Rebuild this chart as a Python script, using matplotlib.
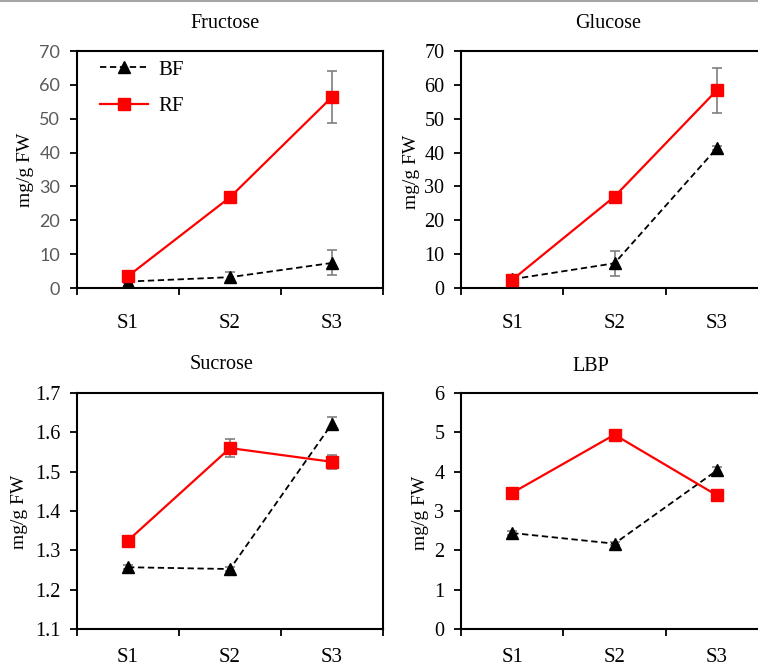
import matplotlib
matplotlib.use("Agg")
import matplotlib.pyplot as plt
from matplotlib.lines import Line2D

plt.rcParams['font.family'] = ['Liberation Serif', 'DejaVu Serif']

stages = ["S1", "S2", "S3"]
series = ["BF", "RF"]

fructose_bf = [1.9, 3.2, 7.4]
fructose_bf_err = [0.3, 1.5, 3.7]
fructose_rf = [3.5, 26.8, 56.4]
fructose_rf_err = [0.3, 0.5, 7.6]

glucose_bf = [2.6, 7.3, 41.3]
glucose_bf_err = [0.2, 3.7, 0.5]
glucose_rf = [2.4, 27.0, 58.4]
glucose_rf_err = [0.2, 0.5, 6.6]

sucrose_bf = [1.257, 1.2525, 1.622]
sucrose_bf_err = [0.005, 0.005, 0.016]
sucrose_rf = [1.325, 1.560, 1.525]
sucrose_rf_err = [0.004, 0.022, 0.018]

lbp_bf = [2.44, 2.17, 4.03]
lbp_bf_err = [0.04, 0.04, 0.08]
lbp_rf = [3.46, 4.94, 3.40]
lbp_rf_err = [0.04, 0.04, 0.04]

titles = ["Fructose", "Glucose", "Sucrose", "LBP"]
ylabel = "mg/g FW"

W, H = 758, 668
fig = plt.figure(figsize=(W / 100, H / 100), dpi=100)

def px_axes(x0, y0, x1, y1):
    return fig.add_axes([x0 / W, 1 - y1 / H, (x1 - x0) / W, (y1 - y0) / H])

panels = [
    dict(box=(77, 51, 383, 288), bf=fructose_bf, bfe=fructose_bf_err, rf=fructose_rf, rfe=fructose_rf_err,
         ylim=(0, 70), yticks=[0, 10, 20, 30, 40, 50, 60, 70], fmt="{:d}", title_xy=(225, 24), ylab_xy=(25, 170),
         sans=True, xpad=19),
    dict(box=(461, 51, 768, 288), bf=glucose_bf, bfe=glucose_bf_err, rf=glucose_rf, rfe=glucose_rf_err,
         ylim=(0, 70), yticks=[0, 10, 20, 30, 40, 50, 60, 70], fmt="{:d}", title_xy=(608, 24), ylab_xy=(412, 172),
         sans=False, xpad=19),
    dict(box=(77, 393, 383, 629), bf=sucrose_bf, bfe=sucrose_bf_err, rf=sucrose_rf, rfe=sucrose_rf_err,
         ylim=(1.1, 1.7), yticks=[1.1, 1.2, 1.3, 1.4, 1.5, 1.6, 1.7], fmt="{:.1f}", title_xy=(222, 365), ylab_xy=(20, 512),
         sans=False, xpad=14),
    dict(box=(461, 393, 768, 629), bf=lbp_bf, bfe=lbp_bf_err, rf=lbp_rf, rfe=lbp_rf_err,
         ylim=(0, 6), yticks=[0, 1, 2, 3, 4, 5, 6], fmt="{:d}", title_xy=(591, 366), ylab_xy=(420, 513),
         sans=False, xpad=14),
]

xpos = [i + 0.5 for i in range(len(stages))]

for i, p in enumerate(panels):
    ax = px_axes(*p["box"])
    ax.errorbar(xpos, p["bf"], yerr=p["bfe"], fmt="none", ecolor="#7f7f7f", elinewidth=1.2,
                capsize=3.5, capthick=1.2, zorder=2)
    ax.errorbar(xpos, p["rf"], yerr=p["rfe"], fmt="none", ecolor="#7f7f7f", elinewidth=1.2,
                capsize=3.5, capthick=1.2, zorder=2)
    ax.plot(xpos, p["bf"], color="black", linestyle=(0, (3.5, 2)), linewidth=1.3,
            marker="^", markersize=8, label=series[0], zorder=3)
    ax.plot(xpos, p["rf"], color="#ff0000", linestyle="-", linewidth=1.6,
            marker="s", markersize=9, label=series[1], zorder=4)
    ax.set_xlim(0, 3)
    ax.set_ylim(*p["ylim"])
    ax.set_xticks([0, 1, 2, 3])
    ax.set_xticklabels([])
    ax.set_xticks(xpos, minor=True)
    ax.set_xticklabels(stages, minor=True, fontsize=15)
    ax.tick_params(axis="x", which="major", direction="out", length=5, width=1.3)
    ax.tick_params(axis="x", which="minor", length=0, pad=p["xpad"])
    ax.set_yticks(p["yticks"])
    labs = [p["fmt"].format(int(round(v)) if p["fmt"] == "{:d}" else v) for v in p["yticks"]]
    if p["sans"]:
        ax.set_yticklabels(labs, fontsize=13, color="#595959", family=["Lato", "DejaVu Sans"])
    else:
        ax.set_yticklabels(labs, fontsize=14.5, color="black")
    ax.tick_params(axis="y", direction="out", length=5, width=1.3, pad=7)
    for s in ax.spines.values():
        s.set_linewidth(1.5)
        s.set_color("black")
    fig.text(p["title_xy"][0] / W, 1 - p["title_xy"][1] / H, titles[i], ha="center", va="center", fontsize=14.5)
    fig.text(p["ylab_xy"][0] / W, 1 - p["ylab_xy"][1] / H, ylabel, ha="center", va="center",
             rotation=90, fontsize=14)
    if i == 0:
        ax.legend(loc="upper left", bbox_to_anchor=(0.075, 0.962), frameon=False, fontsize=15,
                  handlelength=2.3, handletextpad=0.5, labelspacing=0.8, borderpad=0, borderaxespad=0)

fig.add_artist(Line2D([0, 1], [1 - 1 / H, 1 - 1 / H], transform=fig.transFigure, color="#a6a6a6", linewidth=1.5))

fig.savefig("out.png", dpi=100)
